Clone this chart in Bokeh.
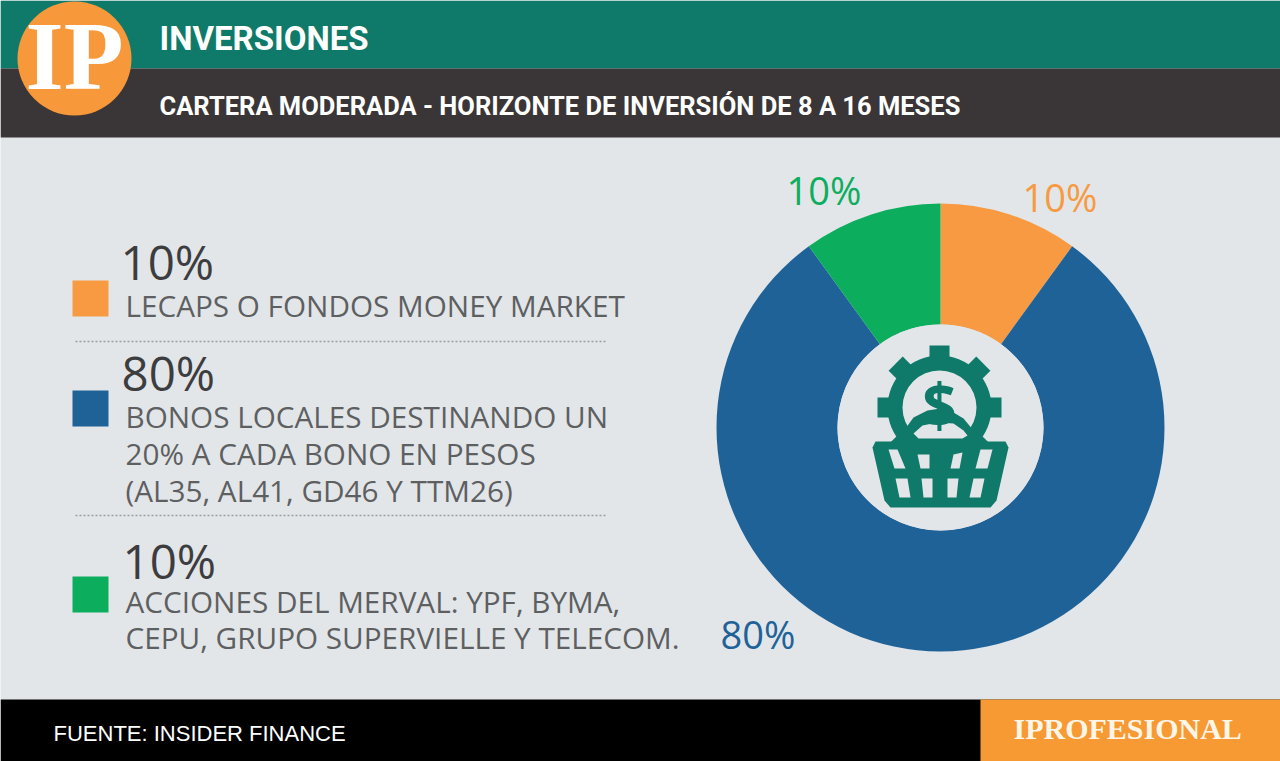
from math import cos, sin, pi
import numpy as np
from bokeh.plotting import figure
from bokeh.models import Range1d, ColumnDataSource
from bokeh.core.properties import value
from bokeh.embed import file_html
from bokeh.resources import INLINE

# ---- data ----
categories = ["LECAPS O FONDOS MONEY MARKET", "BONOS LOCALES", "ACCIONES DEL MERVAL"]
shares = [10, 80, 10]
colors = ["#F79A42", "#1F6298", "#0CAE5E"]
title = "INVERSIONES"
subtitle = "CARTERA MODERADA - HORIZONTE DE INVERSIÓN DE 8 A 16 MESES"
source_text = "FUENTE: INSIDER FINANCE"
brand = "IPROFESIONAL"
legend_lines = [
    ["LECAPS O FONDOS MONEY MARKET"],
    ["BONOS LOCALES DESTINANDO UN", "20% A CADA BONO EN PESOS", "(AL35, AL41, GD46 Y TTM26)"],
    ["ACCIONES DEL MERVAL: YPF, BYMA,", "CEPU, GRUPO SUPERVIELLE Y TELECOM."],
]

W, H = 1280, 761
TEAL, DARK, BG, INK = "#0F7A69", "#3A3536", "#E2E6E9", "#5E5F61"
FONT = value("Open Sans")


def Y(sy):
    return H - sy


p = figure(width=W, height=H, x_range=Range1d(0, W), y_range=Range1d(0, H),
           output_backend="svg", toolbar_location=None, min_border=0,
           background_fill_color=BG, border_fill_color=BG, outline_line_color=None)
p.axis.visible = False
p.grid.visible = False


def box(x0, x1, y0, y1, c):
    p.quad(left=[x0], right=[x1], top=[Y(y0)], bottom=[Y(y1)], fill_color=c, line_color=None)


def poly(pts, c):
    p.patch([a for a, _ in pts], [Y(b) for _, b in pts], fill_color=c, line_color=None)


def label(x, y, t, size, c=INK, font=FONT, style="normal", align="left"):
    # the SVG text sits lower than the requested baseline by about a third of the font size
    p.text([x], [Y(y - 0.36 * size)], text=[t], text_font=font, text_font_size=f"{size}px", text_color=c,
           text_font_style=style, text_align=align, text_baseline="alphabetic")


# header / footer bands
box(0, W, 0, 68, TEAL)
box(0, W, 68, 137, DARK)
box(0, W, 699, H, "#000000")
box(980, W, 699, H, "#F79A33")
p.circle([74], [Y(58)], radius=57, fill_color="#F7983A", line_color=None)
label(25, 91, "IP", 98, "#FFFFFF", value("Liberation Serif"), "bold")
label(159, 50, title, 33, "#FFFFFF", value("Roboto"), "bold")
label(159, 115, subtitle, 25.5, "#FFFFFF", value("Roboto"), "bold")
label(53, 741, source_text, 22, "#FFFFFF", value("Liberation Sans"))
label(1013, 739, brand, 30, "#FFF6E8", value("Liberation Serif"), "bold")

# donut
cx, cy = 940, 427
fr = np.array(shares) / sum(shares) * 2 * pi
ends = pi / 2 - np.cumsum(fr)
starts = ends + fr
src = ColumnDataSource(dict(x=[cx] * 3, y=[Y(cy)] * 3, s=list(ends), e=list(starts), c=colors))
p.annular_wedge(x="x", y="y", inner_radius=103, outer_radius=224, start_angle="s", end_angle="e",
                fill_color="c", line_color=None, source=src)
p.circle([cx], [Y(cy)], radius=103, fill_color=BG, line_color=None)

# pie labels
label(1022, 210, f"{shares[0]}%", 38, colors[0])
label(720, 647, f"{shares[1]}%", 38, colors[1])
label(786, 203, f"{shares[2]}%", 38, colors[2])

# legend
tops = [280, 390, 576]
pct_pos = [(120, 278), (121, 389), (122, 577)]
line_y = [[316], [427, 464, 501], [612, 648]]
for i in range(3):
    box(72, 108, tops[i], tops[i] + 36, colors[i])
    label(pct_pos[i][0], pct_pos[i][1], f"{shares[i]}%", 47.5, "#3D3D3F")
    for t, y in zip(legend_lines[i], line_y[i]):
        label(125, y, t, 29.7, INK)
for y in (341, 515):
    p.line([75, 607], [Y(y), Y(y)], line_color="#9A9C9F", line_width=1.6, line_dash="2 2")

# icon: gear
gx, gy = 939, 407
for k in range(8):
    a = k * pi / 4
    p.rect([gx + 52 * cos(a)], [Y(gy) + 52 * sin(a)], width=20, height=20, angle=a,
           fill_color=TEAL, line_color=None)
p.annulus([gx], [Y(gy)], inner_radius=37, outer_radius=52, fill_color=TEAL, line_color=None)
# hand over the coins
poly([(905, 428), (913, 417), (927, 410), (940, 408), (953, 412), (963, 418), (973, 430),
      (973, 442), (905, 442)], TEAL)
poly([(913, 433), (922, 425), (937, 422), (953, 423), (963, 430), (967, 435), (962, 438), (918, 438)], BG)
label(939, 425, "$", 60, TEAL, value("Open Sans"), "bold", "center")
# icon: basket
poly([(875, 441), (1005, 441), (1008, 447), (996, 500), (990, 507), (890, 507), (884, 500), (872, 447)], TEAL)
for q in [
    [(888, 449), (897, 449), (905, 468), (905, 468), (894, 468)],
    [(917, 454), (929, 454), (929, 468), (920, 468)],
    [(953, 454), (962, 452), (959, 468), (950, 468)],
    [(980, 449), (992, 449), (987, 468), (975, 468)],
    [(895, 478), (907, 478), (910, 497), (899, 497)],
    [(921, 478), (932, 478), (932, 497), (923, 497)],
    [(947, 478), (958, 478), (956, 497), (947, 497)],
    [(973, 478), (984, 478), (980, 497), (969, 497)],
]:
    poly(q, BG)

open("out.html", "w").write(file_html(p, INLINE))
